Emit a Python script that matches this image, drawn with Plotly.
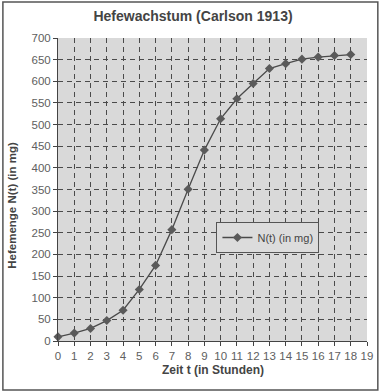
import plotly.graph_objects as go

t = list(range(19))
n_mg = [9.6, 18.3, 29.0, 47.2, 71.1, 119.1, 174.6, 257.3, 350.7, 441.0, 513.3,
        559.7, 594.8, 629.4, 640.8, 651.1, 655.9, 659.6, 661.8]
x_ticks = list(range(20))
y_ticks = list(range(0, 701, 50))

W, H = 385, 392
L, R, T, B = 58, 13, 38, 51
pw, ph = W - L - R, H - T - B


def px(x):
    return (x - L) / pw


def py(y):
    return 1 - (y - T) / ph


fig = go.Figure()
fig.add_trace(go.Scatter(
    x=t, y=n_mg, mode="lines+markers", name="N(t) (in mg)",
    line=dict(color="#4a4a4a", width=1.3),
    marker=dict(symbol="diamond", size=7, color="#5a5a5a"),
    cliponaxis=False,
))

grid = dict(showgrid=True, gridcolor="#4a4a4a", griddash="5px,4px", gridwidth=1)
fig.update_layout(
    width=W, height=H,
    margin=dict(l=L, r=R, t=T, b=B),
    paper_bgcolor="white",
    plot_bgcolor="#d9d9d9",
    font=dict(family="Liberation Sans, Arial, sans-serif", size=11, color="#606060"),
    title=dict(text="<b>Hefewachstum (Carlson 1913)</b>", xref="container",
               x=193 / W, xanchor="center",
               yref="container", y=1 - 16 / H, yanchor="middle",
               font=dict(size=14, color="#444444")),
    xaxis=dict(range=[0, 19], tickvals=x_ticks, ticks="outside", ticklen=4,
               tickcolor="#444444", showline=True, linecolor="#444444",
               zeroline=False, tickfont=dict(size=11.5), **grid),
    yaxis=dict(range=[0, 700], tickvals=y_ticks, ticks="outside", ticklen=4,
               tickcolor="#444444", showline=True, linecolor="#444444",
               zeroline=False, tickfont=dict(size=11.5), **grid),
    legend=dict(x=px(219), y=py(222), xanchor="left", yanchor="top",
                bgcolor="#dcdcdc", bordercolor="#555555", borderwidth=1,
                font=dict(size=11, color="#444444"),
                itemwidth=30, tracegroupgap=0),
    showlegend=True,
    annotations=[
        dict(text="<b>Zeit t (in Stunden)</b>", xref="paper", yref="paper",
             x=px(216), y=py(370), xanchor="center", yanchor="middle",
             showarrow=False, font=dict(size=12, color="#444444")),
        dict(text="<b>Hefemenge N(t) (in mg)</b>", xref="paper", yref="paper",
             x=px(11), y=py(205), xanchor="center", yanchor="middle",
             textangle=-90, showarrow=False, font=dict(size=11.5, color="#444444")),
    ],
    shapes=[dict(type="rect", xref="paper", yref="paper",
                 x0=px(2), x1=px(W - 2), y0=py(H - 2), y1=py(2),
                 line=dict(color="#555555", width=1.5), layer="below")],
)
fig.write_html("out.html", post_script="document.body.style.margin='0';",
               config={"displayModeBar": False})
